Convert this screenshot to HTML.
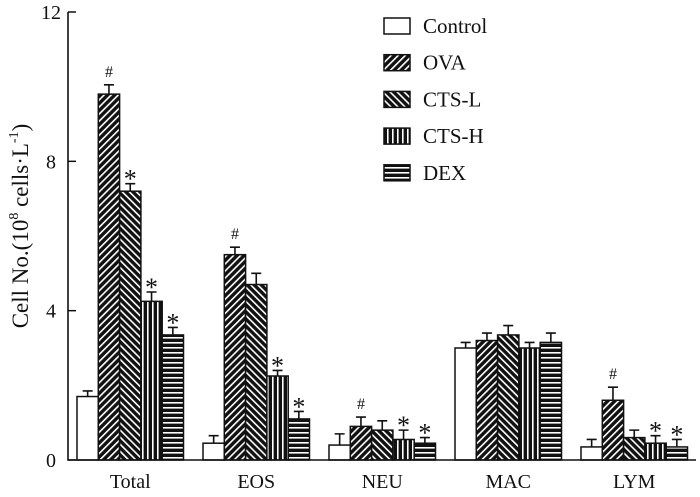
<!DOCTYPE html>
<html><head><meta charset="utf-8"><style>
body{margin:0;background:#fff}
svg text{font-family:"Liberation Serif",serif;fill:#111}
</style></head><body>
<svg width="700" height="492" viewBox="0 0 700 492">
<defs>
<pattern id="p1" patternUnits="userSpaceOnUse" width="5" height="5" patternTransform="rotate(45)"><rect width="5" height="5" fill="#111"/><rect x="0" y="0" width="1.6" height="5" fill="#fff"/></pattern>
<pattern id="p2" patternUnits="userSpaceOnUse" width="5" height="5" patternTransform="rotate(-45)"><rect width="5" height="5" fill="#111"/><rect x="0" y="0" width="1.6" height="5" fill="#fff"/></pattern>
<pattern id="p3" patternUnits="userSpaceOnUse" width="5" height="5"><rect width="5" height="5" fill="#111"/><rect x="2" y="0" width="1.6" height="5" fill="#fff"/></pattern>
<pattern id="p4" patternUnits="userSpaceOnUse" width="5" height="5"><rect width="5" height="5" fill="#111"/><rect x="0" y="2" width="5" height="1.6" fill="#fff"/></pattern>
</defs>
<g id="chart"></g>
<text transform="translate(28,226) rotate(-90)" text-anchor="middle" style="font-size:23px">Cell No.(10<tspan style="font-size:14px" dy="-10">8</tspan><tspan dy="10"> cells·L</tspan><tspan style="font-size:14px" dy="-10">-1</tspan><tspan dy="10">)</tspan></text>
</svg>
<script>
const categories=["Total","EOS","NEU","MAC","LYM"];
const seriesNames=["Control","OVA","CTS-L","CTS-H","DEX"];
const control=[1.7,0.45,0.4,3.0,0.35];
const ova=[9.8,5.5,0.9,3.2,1.6];
const ctsL=[7.2,4.7,0.8,3.35,0.6];
const ctsH=[4.25,2.25,0.55,3.0,0.45];
const dex=[3.35,1.1,0.45,3.15,0.35];
const errControl=[0.15,0.2,0.3,0.15,0.2];
const errOva=[0.25,0.2,0.25,0.2,0.35];
const errCtsL=[0.2,0.3,0.25,0.25,0.2];
const errCtsH=[0.25,0.15,0.25,0.15,0.2];
const errDex=[0.2,0.2,0.15,0.25,0.2];
const marks=[["","#","*","*","*"],["","#","","*","*"],["","#","","*","*"],["","","","",""],["","#","","*","*"]];
const yTicks=[0,4,8,12];
const series=[control,ova,ctsL,ctsH,dex];
const errs=[errControl,errOva,errCtsL,errCtsH,errDex];
const fills=["#fff","url(#p1)","url(#p2)","url(#p3)","url(#p4)"];
const NS="http://www.w3.org/2000/svg";
const g=document.getElementById('chart');
const y0=460,yTop=12,ax=68;
const y=v=>y0-(v/12)*(y0-yTop);
const barW=21.3,groupStart=77,groupStep=126;
const bx=(c,s)=>groupStart+c*groupStep+s*barW;
function el(t,a,txt){const e=document.createElementNS(NS,t);for(const k in a)e.setAttribute(k,a[k]);if(txt!==undefined)e.textContent=txt;g.appendChild(e);return e;}
categories.forEach((cat,c)=>{
 series.forEach((ser,s)=>{
  const v=ser[c],x=bx(c,s),e=errs[s][c];
  const ey=y(v+e),cx=x+barW/2;
  const eb=el('path',{d:`M${cx} ${y(v)}V${ey}M${cx-5} ${ey}H${cx+5}`,stroke:'#111','stroke-width':1.6,fill:'none'});
  
  
  const r=el('rect',{x:x,y:y(v),width:barW,height:y0-y(v),fill:fills[s],stroke:'#111','stroke-width':1.5});
  
  
  const m=marks[c][s];
  if(m){const t=el('text',{x:cx,y:ey-(m=='*'?-4:8),'text-anchor':'middle','font-size':m=='*'?26:16},m);
   
   }
 });
 const lt=el('text',{x:bx(c,2)+barW/2,y:488,'text-anchor':'middle','font-size':20},cat);
 
 
});
const axes=el('path',{d:`M${ax} ${yTop}V${y0}H696`,stroke:'#111','stroke-width':1.6,fill:'none'});


yTicks.forEach(t=>{
 const tk=el('path',{d:`M${ax} ${y(t)}H${ax+8}`,stroke:'#111','stroke-width':1.5});
 
 
 const tl=el('text',{x:51,y:y(t)+7,'text-anchor':'middle','font-size':20},t);
 
 
});
seriesNames.forEach((n,i)=>{
 const ly=18+i*36.7;
 const r=el('rect',{x:384,y:ly,width:26,height:16,fill:fills[i],stroke:'#111','stroke-width':1.5});
 
 
 const t=el('text',{x:423,y:ly+15,'font-size':21},n);
 
 
});
</script>
</body></html>
